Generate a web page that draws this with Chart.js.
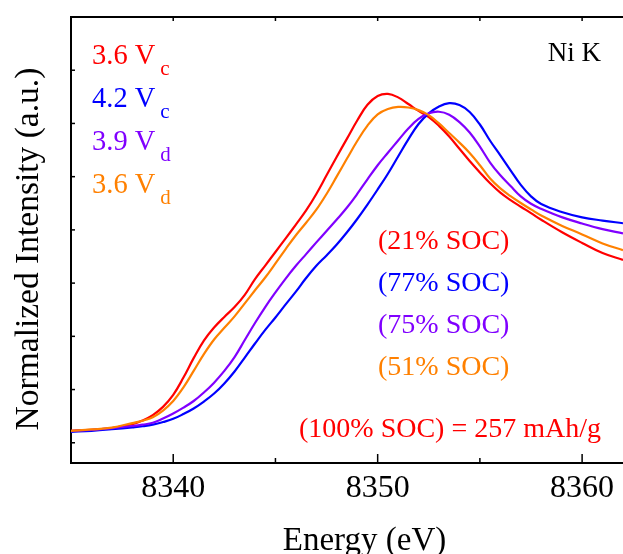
<!DOCTYPE html>
<html>
<head>
<meta charset="utf-8">
<script src="https://cdn.jsdelivr.net/npm/chart.js@4.4.0/dist/chart.umd.min.js"></script>
<style>
html,body{margin:0;padding:0;background:#fff;overflow:hidden;}
#wrap{width:623px;height:554px;position:relative;}
</style>
</head>
<body>
<div id="wrap"><canvas id="c"></canvas></div>
<script>
// ---- data ----
const energy = [8335, 8336, 8337, 8338,
  8338.5, 8339, 8339.5, 8340, 8340.5, 8341, 8341.5, 8342, 8342.5, 8343,
  8343.5, 8344, 8344.5, 8345, 8345.5, 8346, 8346.5, 8347, 8347.5, 8348,
  8348.5, 8349, 8349.5, 8350, 8350.5, 8351, 8351.5, 8352, 8352.5, 8353,
  8353.5, 8354, 8354.5, 8355, 8355.5, 8356, 8356.5, 8357, 8357.5, 8358,
  8359, 8360, 8361, 8362];

const v36c = [0.045, 0.049, 0.055, 0.070,
  0.084, 0.104, 0.135, 0.180, 0.245, 0.318, 0.384, 0.433, 0.473, 0.510,
  0.556, 0.615, 0.666, 0.717, 0.768, 0.820, 0.873, 0.935, 1.005, 1.075,
  1.143, 1.211, 1.270, 1.303, 1.311, 1.298, 1.273, 1.247, 1.224, 1.191,
  1.151, 1.105, 1.059, 1.016, 0.975, 0.940, 0.912, 0.887, 0.863, 0.838,
  0.792, 0.751, 0.713, 0.687];

const v42c = [0.041, 0.045, 0.051, 0.058,
  0.062, 0.068, 0.078, 0.090, 0.108, 0.129, 0.155, 0.185, 0.223, 0.268,
  0.320, 0.373, 0.424, 0.471, 0.520, 0.568, 0.619, 0.665, 0.704, 0.745,
  0.791, 0.841, 0.895, 0.952, 1.011, 1.076, 1.140, 1.198, 1.238, 1.264,
  1.276, 1.269, 1.243, 1.196, 1.135, 1.080, 1.024, 0.969, 0.926, 0.897,
  0.867, 0.847, 0.835, 0.825];

const v39d = [0.044, 0.048, 0.055, 0.063,
  0.068, 0.075, 0.091, 0.110, 0.132, 0.157, 0.189, 0.226, 0.270, 0.322,
  0.386, 0.450, 0.510, 0.565, 0.617, 0.665, 0.709, 0.753, 0.796, 0.839,
  0.884, 0.935, 0.990, 1.043, 1.090, 1.136, 1.181, 1.217, 1.238, 1.244,
  1.233, 1.205, 1.166, 1.113, 1.053, 1.005, 0.965, 0.926, 0.898, 0.879,
  0.848, 0.824, 0.803, 0.787];

const v36d = [0.045, 0.050, 0.057, 0.074,
  0.083, 0.096, 0.121, 0.157, 0.208, 0.270, 0.333, 0.388, 0.432, 0.475,
  0.524, 0.573, 0.621, 0.674, 0.728, 0.780, 0.827, 0.876, 0.935, 1.001,
  1.068, 1.134, 1.192, 1.234, 1.254, 1.262, 1.260, 1.250, 1.231, 1.200,
  1.164, 1.128, 1.089, 1.043, 0.993, 0.956, 0.927, 0.901, 0.877, 0.854,
  0.816, 0.783, 0.749, 0.724];

const xMajorTicks = [8340, 8350, 8360];
const xMinorTicks = [8345, 8355];
const yTicks = [0, 0.2, 0.4, 0.6, 0.8, 1.0, 1.2, 1.4];

const seriesMain = ['3.6 V', '4.2 V', '3.9 V', '3.6 V'];
const seriesSub = ['c', 'c', 'd', 'd'];
const socLabels = ['(21% SOC)', '(77% SOC)', '(75% SOC)', '(51% SOC)'];
const capacityNote = '(100% SOC) = 257 mAh/g';
const edgeLabel = 'Ni K';
const xTitle = 'Energy (eV)';
const yTitle = 'Normalized Intensity (a.u.)';

const colors = ['#ff0000', '#0000ff', '#8000ff', '#ff8000'];
const FONT = '"Liberation Serif", "Times New Roman", Times, serif';

const seriesValues = [v36c, v42c, v39d, v36d];

const decor = {
  id: 'decor',
  afterDraw(chart) {
    const {ctx, chartArea: a, scales: {x, y}} = chart;
    ctx.save();
    // top frame line
    ctx.strokeStyle = '#000';
    ctx.lineWidth = 2;
    ctx.beginPath();
    ctx.moveTo(a.left - 1, a.top);
    ctx.lineTo(a.right, a.top);
    ctx.stroke();
    // inward ticks
    ctx.lineWidth = 1.5;
    const vline = (px, y1, y2) => { ctx.beginPath(); ctx.moveTo(px, y1); ctx.lineTo(px, y2); ctx.stroke(); };
    xMajorTicks.forEach(v => {
      const px = x.getPixelForValue(v);
      vline(px, a.bottom, a.bottom - 9);
      vline(px, a.top, a.top + 4);
    });
    xMinorTicks.forEach(v => {
      const px = x.getPixelForValue(v);
      vline(px, a.bottom, a.bottom - 5);
      vline(px, a.top, a.top + 4);
    });
    yTicks.forEach(v => {
      const py = y.getPixelForValue(v);
      ctx.beginPath(); ctx.moveTo(a.left, py); ctx.lineTo(a.left + 4, py); ctx.stroke();
    });

    // axis titles
    ctx.fillStyle = '#000';
    ctx.textBaseline = 'alphabetic';
    ctx.textAlign = 'center';
    ctx.font = '33px ' + FONT;
    ctx.fillText(xTitle, 364.5, 550);
    ctx.save();
    ctx.translate(37.5, 249);
    ctx.rotate(-Math.PI / 2);
    ctx.font = '33.5px ' + FONT;
    ctx.fillText(yTitle, 0, 0);
    ctx.restore();

    // series labels with subscripts
    ctx.textAlign = 'left';
    seriesMain.forEach((t, i) => {
      const base = 64 + i * 43;
      ctx.fillStyle = colors[i];
      ctx.font = '28.5px ' + FONT;
      ctx.fillText(t, 92, base);
      const w = ctx.measureText(t).width;
      ctx.font = '21px ' + FONT;
      ctx.fillText(seriesSub[i], 92 + w + 5, base + 11);
    });

    // edge label
    ctx.fillStyle = '#000';
    ctx.font = '27px ' + FONT;
    ctx.textAlign = 'right';
    ctx.fillText(edgeLabel, 601, 61);

    // SOC labels
    ctx.textAlign = 'left';
    ctx.font = '28px ' + FONT;
    socLabels.forEach((t, i) => {
      ctx.fillStyle = colors[i];
      ctx.fillText(t, 378, 248.5 + i * 42);
    });
    ctx.fillStyle = colors[0];
    ctx.textAlign = 'right';
    ctx.fillText(capacityNote, 601, 437);
    ctx.restore();
  }
};

const datasets = seriesValues.map((vals, i) => ({
  label: seriesMain[i] + seriesSub[i],
  data: energy.map((e, k) => ({x: e, y: vals[k]})),
  borderColor: colors[i],
  backgroundColor: colors[i],
  borderWidth: 2.2,
  pointRadius: 0,
  tension: 0.4,
  fill: false,
  order: 4 - i
}));

new Chart(document.getElementById('c'), {
  type: 'line',
  data: {datasets},
  options: {
    responsive: true,
    maintainAspectRatio: false,
    animation: false,
    events: [],
    layout: {padding: {left: 0, right: 0, top: 17, bottom: 0}},
    plugins: {legend: {display: false}, tooltip: {enabled: false}},
    scales: {
      x: {
        type: 'linear',
        min: 8335,
        max: 8362,
        afterFit(s) { s.height = 91; },
        afterBuildTicks(s) { s.ticks = xMajorTicks.map(v => ({value: v})); },
        grid: {display: false, drawTicks: false},
        border: {display: true, color: '#000', width: 2},
        ticks: {
          color: '#000',
          font: {family: FONT, size: 32},
          padding: 6,
          autoSkip: false,
          maxRotation: 0,
          callback: v => String(v)
        }
      },
      y: {
        type: 'linear',
        min: -0.076,
        max: 1.6,
        afterFit(s) { s.width = 71; },
        afterBuildTicks(s) { s.ticks = yTicks.map(v => ({value: v})); },
        grid: {display: false, drawTicks: false},
        border: {display: true, color: '#000', width: 2},
        ticks: {display: false}
      }
    }
  },
  plugins: [decor]
});
</script>
</body>
</html>
